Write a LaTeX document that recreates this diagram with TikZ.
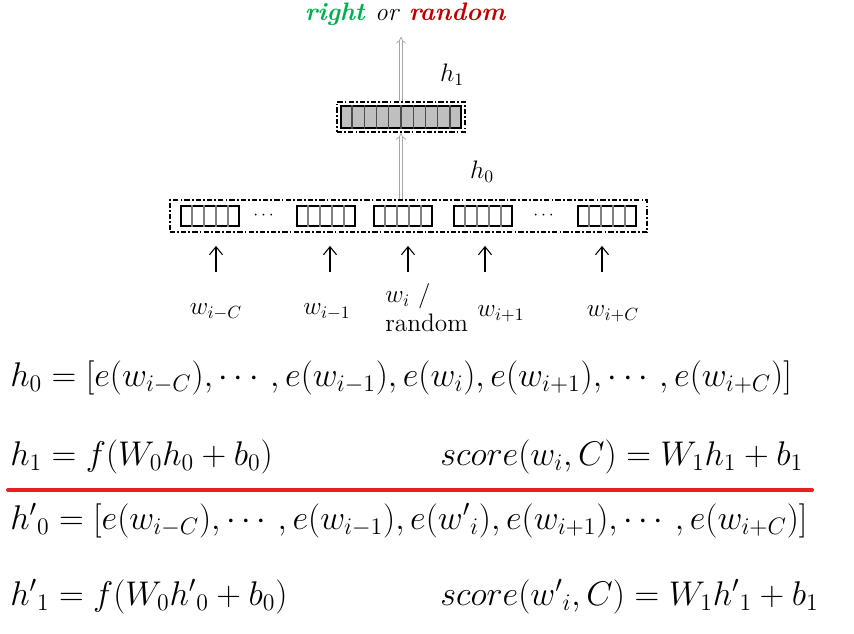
\documentclass[tikz,border=0pt]{standalone}
\usepackage{amsmath}
\usepackage{tikz}
\usetikzlibrary{fit,positioning,calc,arrows.meta}
\definecolor{rightgreen}{RGB}{0,176,80}
\definecolor{randred}{RGB}{192,0,0}
\definecolor{rulered}{RGB}{237,28,36}
\newcommand{\eqline}[1]{\scalebox{0.94}{$#1$}}

\begin{document}
\begin{tikzpicture}[x=0.02cm,y=-0.02cm,>={Straight Barb[length=1.6mm,width=2.6mm]},align=center]
        \tikzset{
            embed/.style={
                draw,
                line width=1.3pt,
                minimum width=1.16cm,
                minimum height=0.4cm,
                inner sep=0pt
            },
            hidbar/.style={
                draw,
                line width=1.3pt,
                fill=black!25,
                minimum width=2.4cm,
                minimum height=0.44cm,
                inner sep=0pt
            },
            layer/.style={
                draw,
                line width=0.9pt,
                dash pattern=on 3pt off 1.2pt on 1pt off 1.2pt
            },
            hollow/.style={
                draw=gray!70,
                double=white,
                line width=0.4pt,
                double distance=1.6pt,
                -{Implies}
            },
            lbl/.style={font=\fontsize{14.4}{16.5}\selectfont, inner sep=0pt},
            eqn/.style={font=\huge, anchor=base west, inner sep=0pt}
        }

        \useasboundingbox (0,0) rectangle (854,634);

        % Output
        \node[font=\fontsize{14.4}{17}\selectfont\bfseries\itshape] (out) at (405,14)
            {\textcolor{rightgreen}{right} \textmd{or} \textcolor{randred}{random}};

        % Hidden layer h1
        \node[hidbar] (h1bar) at (401,117) {};
        \foreach \k in {1,...,9}
            \draw[black!70, line width=0.8pt]
                ($(h1bar.north west)!\k/10!(h1bar.north east)$) --
                ($(h1bar.south west)!\k/10!(h1bar.south east)$);
        \node[layer, fit=(h1bar), inner sep=0.06cm] (h1box) {};
        \node[lbl] (h1lbl) at (452,75) {$h_1$};

        % Embedding layer h0
        \foreach \n/\cx in {1/210, 2/326, 3/403, 4/483, 5/607} {
            \node[embed] (e\n) at (\cx,216) {};
            \foreach \k in {1,...,4}
                \draw[gray, line width=0.7pt]
                    ($(e\n.north west)!\k/5!(e\n.north east)$) --
                    ($(e\n.south west)!\k/5!(e\n.south east)$);
        }
        \node (dotsL) at (265,216) {$\cdots$};
        \node (dotsR) at (545,216) {$\cdots$};
        \node[layer, fit=(e1) (e5), inner xsep=0.2cm, inner ysep=0.1cm] (h0box) {};
        \node[lbl] (h0lbl) at (482,172) {$h_0$};

        % Layer connections
        \draw[hollow] (h0box.north -| h1bar) -- (h1box.south);
        \draw[hollow, shorten >=3pt] (h1box.north) -- (h1box.north |- out.south);

        % Input words
        \node[lbl] (wA) at (216,312) {$w_{i-C}$};
        \node[lbl] (wB) at (327,312) {$w_{i-1}$};
        \node[lbl, align=left, anchor=west] (wC) at (385,308) {$w_i$ /\\random};
        \node[lbl] (wD) at (501,314) {$w_{i+1}$};
        \node[lbl] (wE) at (613,314) {$w_{i+C}$};

        \foreach \nm/\ax in {A/216, B/330, C/408, D/485, E/602} {
            \coordinate (t\nm) at (\ax,272);
            \draw[->, line width=0.6pt, shorten >=0.26cm] (t\nm) -- (t\nm |- h0box.south);
        }

        % Equations
        \node[eqn] (eqA) at (10,386)
            {\eqline{h_0=[e(w_{i-C}),\cdots,e(w_{i-1}),e(w_i),e(w_{i+1}),\cdots,e(w_{i+C})]}};
        \node[eqn] (eqB) at (10,465) {\eqline{h_1=f(W_0h_0+b_0)}};
        \node[eqn] (eqC) at (440,465) {\eqline{score(w_i,C)=W_1h_1+b_1}};

        \draw[rulered, line width=2.3pt, line cap=round] (8,490) -- (812,490);

        \node[eqn] (eqD) at (10,529)
            {\eqline{{h'}_0=[e(w_{i-C}),\cdots,e(w_{i-1}),e({w'}_i),e(w_{i+1}),\cdots,e(w_{i+C})]}};
        \node[eqn] (eqE) at (10,605) {\eqline{{h'}_1=f(W_0{h'}_0+b_0)}};
        \node[eqn] (eqF) at (440,605) {\eqline{score({w'}_i,C)=W_1{h'}_1+b_1}};
    \end{tikzpicture}
\end{document}
